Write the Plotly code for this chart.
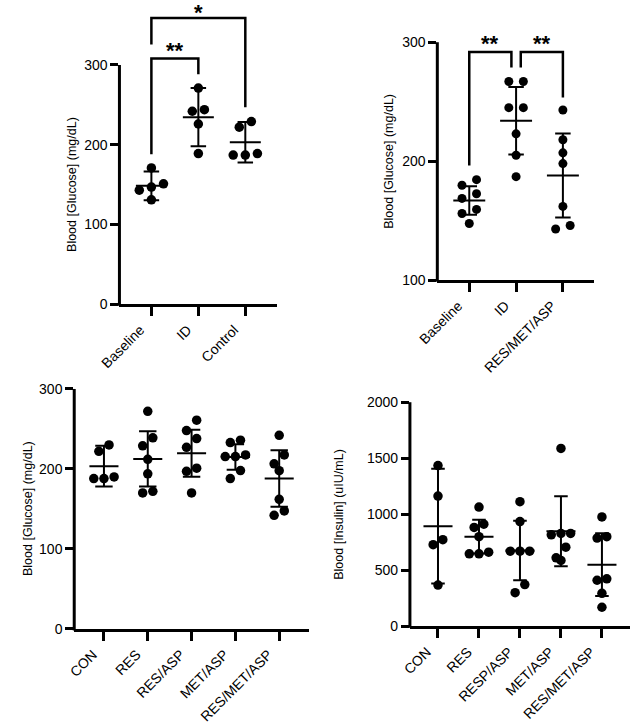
import plotly.graph_objects as go

W, H = 630, 725
FONT = "Liberation Sans, Arial, Helvetica, sans-serif"

# ---------------- data ----------------
A_cats = ["Baseline", "ID", "Control"]
A_vals = [[171, 151, 147, 143, 131],
          [271, 244, 242, 226, 189],
          [229, 222, 189, 187, 187]]
A_mean = [148.5, 234.5, 203]
A_sd = [18, 36.5, 25.4]
A_ticks = [0, 100, 200, 300]
A_sig = [("Baseline", "ID", 188, 288.5, 308, "**"),
         ("Baseline", "Control", 325.6, 247, 359, "*")]

B_cats = ["Baseline", "ID", "RES/MET/ASP"]
B_vals = [[184.5, 179.8, 172.6, 168.7, 159.5, 156, 147.6],
          [267, 267, 245, 245, 223, 205, 187],
          [243, 218, 207, 198, 162, 146, 143]]
B_mean = [167, 234, 188]
B_sd = [12, 28.3, 35.3]
B_ticks = [100, 200, 300]
B_sig = [("Baseline", "ID", 196.4, 278.7, 291.7, "**"),
         ("ID", "RES/MET/ASP", 278.7, 253.5, 291.7, "**")]

C_cats = ["CON", "RES", "RES/ASP", "MET/ASP", "RES/MET/ASP"]
C_vals = [[230, 222, 190, 188, 188],
          [272, 239, 229, 212, 194, 172, 170],
          [261, 248, 238, 227, 201, 197, 170],
          [236, 233, 217.5, 215.5, 215.5, 198, 188],
          [242, 217.6, 206.5, 197.8, 162, 147.5, 142]]
C_mean = [203.5, 212.6, 219.7, 215, 188]
C_sd = [25.5, 34.5, 29.3, 16, 35.3]
C_ticks = [0, 100, 200, 300]

D_cats = ["CON", "RES", "RESP/ASP", "MET/ASP", "RES/MET/ASP"]
D_vals = [[1435, 1162, 773, 729, 368],
          [1064, 911, 882, 800, 662, 647, 647],
          [1112, 935, 671, 671, 671, 373, 300],
          [1588, 829, 829, 817, 706, 611, 588],
          [976, 800, 788, 424, 411, 294, 170]]
D_mean = [894, 800, 676, 848, 550]
D_sd = [512, 150, 265, 313, 280]
D_ticks = [0, 500, 1000, 1500, 2000]

Y_TITLE_GLU = "Blood [Glucose] (mg/dL)"
Y_TITLE_INS = "Blood [Insulin] (uIU/mL)"

# ---------------- layout geometry (pixels) ----------------
panels = [
    dict(name="A", cats=A_cats, vals=A_vals, mean=A_mean, sd=A_sd, ticks=A_ticks, sig=A_sig,
         left=102.7, right=265, cat0=135.7, step=48.5,
         ya=(0, 307.7), yb=(300, 65.7), top=0, bottom=307.7,
         title=Y_TITLE_GLU, tx=53, ms=9.5, lane=12.5, mw=16, cw=8),
    dict(name="B", cats=B_cats, vals=B_vals, mean=B_mean, sd=B_sd, ticks=B_ticks, sig=B_sig,
         left=431, right=593.3, cat0=464, step=48.35,
         ya=(100, 283.3), yb=(300, 42.7), top=0, bottom=283.3,
         title=Y_TITLE_GLU, tx=381.7, ms=9, lane=15, mw=16.5, cw=8),
    dict(name="C", cats=C_cats, vals=C_vals, mean=C_mean, sd=C_sd, ticks=C_ticks, sig=[],
         left=56, right=298.3, cat0=86.7, step=45.25,
         ya=(0, 636), yb=(300, 393.3), top=380, bottom=636,
         title=Y_TITLE_GLU, tx=8.3, ms=9.5, lane=10.5, mw=15, cw=9),
    dict(name="D", cats=D_cats, vals=D_vals, mean=D_mean, sd=D_sd, ticks=D_ticks, sig=[],
         left=402.7, right=630, cat0=431.7, step=42.33,
         ya=(0, 633.3), yb=(2000, 406.7), top=395, bottom=633.3,
         title=Y_TITLE_INS, tx=330, ms=9.5, lane=10, mw=15, cw=7),
]


def swarm_offsets(vals, ppu, row_px, lane_px, step_px):
    order = sorted(range(len(vals)), key=lambda i: -vals[i])
    rows = []
    for i in order:
        if rows and (vals[rows[-1][0]] - vals[i]) * ppu < row_px:
            rows[-1].append(i)
        else:
            rows.append([i])
    off = [0.0] * len(vals)
    for r in rows:
        rs = sorted(r, key=lambda i: vals[i])
        n = len(rs)
        for k, i in enumerate(rs):
            off[i] = (k - (n - 1) / 2) * lane_px / step_px
    return off


fig = go.Figure()
shapes = []
annotations = []
layout_axes = {}
SIG_SIZE = 22
SIG_BOX = 27  # approx. annotation box height for SIG_SIZE

for idx, p in enumerate(panels):
    n = idx + 1
    xname = "x" if n == 1 else f"x{n}"
    yname = "y" if n == 1 else f"y{n}"
    xkey = "xaxis" if n == 1 else f"xaxis{n}"
    ykey = "yaxis" if n == 1 else f"yaxis{n}"

    v_a, py_a = p["ya"]
    v_b, py_b = p["yb"]
    ppu = (py_a - py_b) / (v_b - v_a)
    y_lo = v_a - (p["bottom"] - py_a) / ppu
    y_hi = v_a + (py_a - p["top"]) / ppu
    x_lo = (p["left"] - p["cat0"]) / p["step"]
    x_hi = (p["right"] - p["cat0"]) / p["step"]

    layout_axes[xkey] = dict(
        domain=[p["left"] / W, min(p["right"] / W, 1.0)], range=[x_lo, x_hi],
        autorange=False,
        anchor=yname, tickmode="array", tickvals=list(range(len(p["cats"]))),
        ticktext=p["cats"], tickangle=-45, showline=True, linewidth=3, linecolor="black",
        ticks="outside", ticklen=9, tickwidth=3, tickcolor="black",
        ticklabelshift=-11,
        showgrid=False, zeroline=False, fixedrange=True,
        tickfont=dict(family=FONT, size=14, color="black"))
    layout_axes[ykey] = dict(
        domain=[1 - p["bottom"] / H, 1 - p["top"] / H], range=[y_lo, y_hi],
        autorange=False,
        anchor=xname, tickmode="array", tickvals=p["ticks"], showline=False,
        ticks="outside", ticklen=8, tickwidth=3, tickcolor="black",
        showgrid=False, zeroline=False, fixedrange=True,
        tickfont=dict(family=FONT, size=14, color="black"))

    top_axis_px = py_a - (p["ticks"][-1] - v_a) * ppu
    # y axis line (only over the ticked range)
    shapes.append(dict(type="line", xref="paper", yref="paper",
                       x0=p["left"] / W, x1=p["left"] / W,
                       y0=1 - (py_a + 1.5) / H, y1=1 - top_axis_px / H,
                       line=dict(color="black", width=3)))

    # points
    xs, ys = [], []
    for g, vals in enumerate(p["vals"]):
        offs = swarm_offsets(vals, ppu, p["ms"] + 1.5, p["lane"], p["step"])
        for v, o in zip(vals, offs):
            xs.append(g + o)
            ys.append(v)
    fig.add_trace(go.Scatter(x=xs, y=ys, mode="markers", xaxis=xname, yaxis=yname,
                             marker=dict(color="black", size=p["ms"], line=dict(width=0)),
                             cliponaxis=False, showlegend=False, hoverinfo="skip"))

    # mean & SD
    mw = p["mw"] / p["step"]
    cw = p["cw"] / p["step"]
    lx, ly = [], []
    for g, (m, s) in enumerate(zip(p["mean"], p["sd"])):
        lx += [g - mw, g + mw, None, g, g, None, g - cw, g + cw, None, g - cw, g + cw, None]
        ly += [m, m, None, m - s, m + s, None, m + s, m + s, None, m - s, m - s, None]
    fig.add_trace(go.Scatter(x=lx, y=ly, mode="lines", xaxis=xname, yaxis=yname,
                             line=dict(color="black", width=2), showlegend=False,
                             hoverinfo="skip", cliponaxis=False))

    # significance brackets
    for (c0, c1, b0, b1, top, label) in p["sig"]:
        x0 = p["cats"].index(c0)
        x1 = p["cats"].index(c1)
        if p["name"] == "B":  # brackets sharing the ID column are offset
            if c1 == "ID":
                x1 -= 0.1
            if c0 == "ID":
                x0 += 0.1
        shapes.append(dict(type="path", xref=xname, yref=yname,
                           path=f"M {x0},{b0} L {x0},{top} L {x1},{top} L {x1},{b1}",
                           line=dict(color="black", width=2.5)))
        bracket_px = py_a - (top - v_a) * ppu
        yshift = min(-6, -(SIG_BOX - bracket_px))
        annotations.append(dict(x=(x0 + x1) / 2, y=top, xref=xname, yref=yname,
                                text=label, showarrow=False, yanchor="bottom",
                                yshift=yshift,
                                font=dict(family=FONT, size=SIG_SIZE, color="black",
                                          weight="bold")))

    # y title
    axis_mid_px = (py_a + top_axis_px) / 2
    annotations.append(dict(x=p["tx"] / W, y=1 - axis_mid_px / H, xref="paper", yref="paper",
                            text=p["title"], textangle=-90, showarrow=False,
                            xanchor="center", yanchor="middle",
                            font=dict(family=FONT, size=12.5, color="black")))

fig.update_layout(width=W, height=H, margin=dict(l=0, r=0, t=0, b=0, pad=0),
                  paper_bgcolor="white", plot_bgcolor="white",
                  shapes=shapes, annotations=annotations, showlegend=False,
                  **layout_axes)

fig.write_html(
    "out.html",
    config={"displayModeBar": False},
    post_script=(
        "document.body.style.margin='0';document.body.style.padding='0';"
        "document.documentElement.style.overflow='hidden';"
        "var d=document.getElementById('{plot_id}');"
        "if(d){d.style.position='absolute';d.style.left='0px';d.style.top='0px';"
        "d.style.margin='0';}"
    ),
)
